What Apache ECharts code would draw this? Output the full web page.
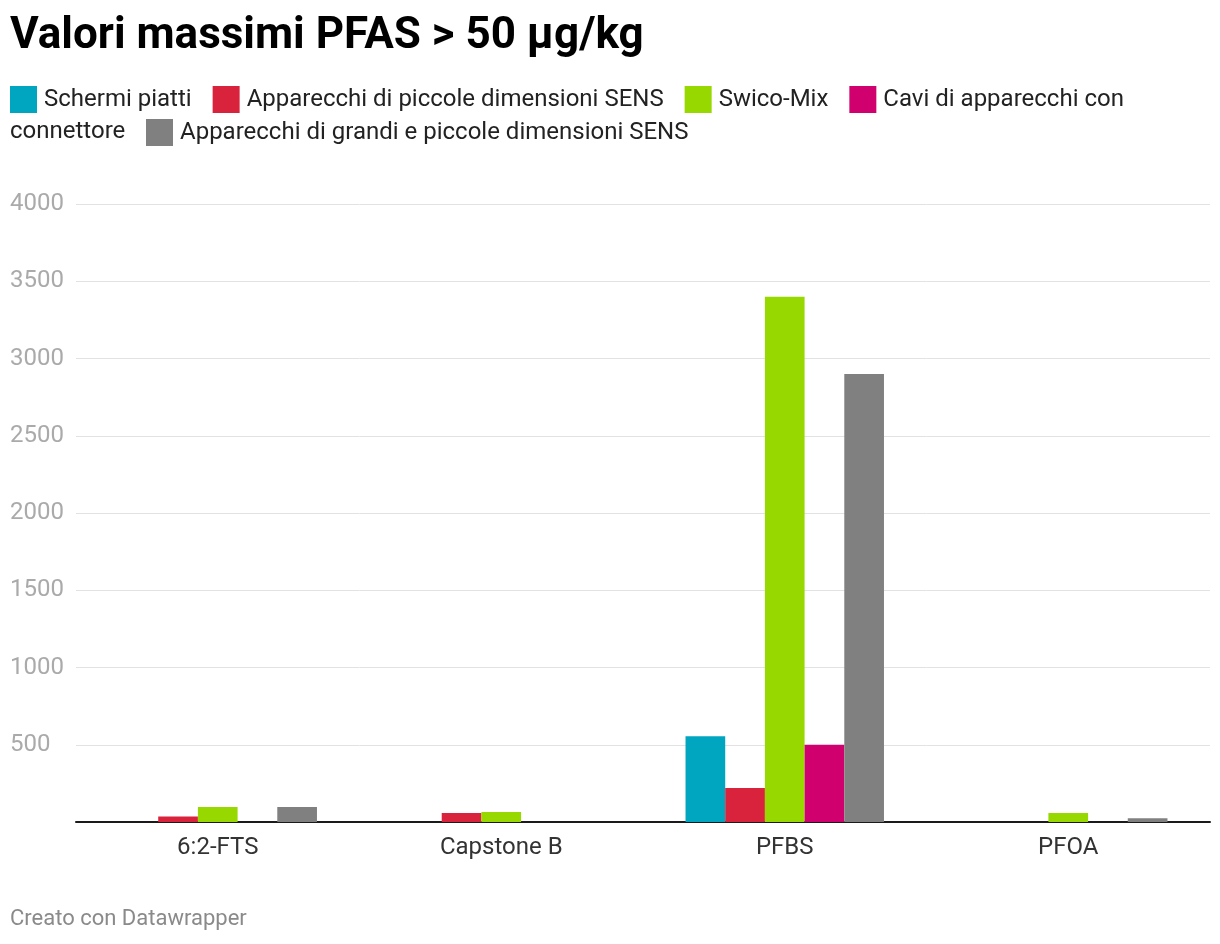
<!DOCTYPE html>
<html>
<head>
<meta charset="utf-8">
<script src="https://cdn.jsdelivr.net/npm/echarts@6/dist/echarts.min.js"></script>
<style>
  html, body { margin: 0; padding: 0; background: #fff; }
  #main { width: 1220px; height: 944px; }
</style>
</head>
<body>
<div id="main"></div>
<script>
// categorie e valori
var categories = ['6:2-FTS', 'Capstone B', 'PFBS', 'PFOA'];
var seriesNames = [
  'Schermi piatti',
  'Apparecchi di piccole dimensioni SENS',
  'Swico-Mix',
  'Cavi di apparecchi con connettore',
  'Apparecchi di grandi e piccole dimensioni SENS'
];
var schermi = [null, null, 555, null];
var piccole = [35, 58, 220, null];
var swico = [97, 65, 3400, 58];
var cavi = [null, null, 500, null];
var grandi = [97, null, 2900, 25];
var yTicks = [0, 500, 1000, 1500, 2000, 2500, 3000, 3500, 4000];

var colors = ['#00a5bf', '#d9223c', '#96d800', '#d1006f', '#808080'];
var font = 'Roboto, "Noto Sans", sans-serif';

var myChart = echarts.init(document.getElementById('main'));

function makeSeries(name, data) {
  return {
    name: name,
    type: 'bar',
    data: data,
    barGap: '0%',
    barCategoryGap: '30%'
  };
}

var option = {
  color: colors,
  animation: false,
  textStyle: { fontFamily: font },
  title: {
    text: 'Valori massimi PFAS > 50 µg/kg',
    left: 5,
    top: 10,
    textStyle: { fontSize: 44, fontWeight: 'bold', color: '#000', fontFamily: font }
  },
  legend: [{
    data: seriesNames.slice(0, 4),
    left: 5,
    top: 81,
    itemWidth: 27,
    itemHeight: 27,
    itemGap: 21,
    icon: 'rect',
    formatter: function (n) {
      return n === 'Cavi di apparecchi con connettore' ? 'Cavi di apparecchi con' : n;
    },
    textStyle: { fontSize: 24, color: '#222', padding: [0, 0, 0, 2] }
  }, {
    data: [seriesNames[4]],
    left: 141,
    top: 114,
    itemWidth: 27,
    itemHeight: 27,
    icon: 'rect',
    textStyle: { fontSize: 24, color: '#222', padding: [0, 0, 0, 2] }
  }],
  graphic: [{
    type: 'text',
    left: 10,
    top: 120,
    style: { text: 'connettore', fontSize: 24, fill: '#222', fontFamily: font }
  }, {
    type: 'text',
    left: 10,
    top: 908,
    style: { text: 'Creato con Datawrapper', fontSize: 22, fill: '#8a8a8a', fontFamily: font }
  }],
  grid: {
    left: 76,
    right: 10,
    top: 204,
    bottom: 122
  },
  xAxis: {
    type: 'category',
    data: categories,
    axisTick: { show: false },
    axisLine: { lineStyle: { color: '#1a1a1a', width: 2 } },
    axisLabel: { fontSize: 24, color: '#333', margin: 14 }
  },
  yAxis: {
    type: 'value',
    min: yTicks[0],
    max: yTicks[yTicks.length - 1],
    interval: 500,
    axisLine: { show: false },
    axisTick: { show: false },
    splitLine: { lineStyle: { color: '#e2e2e2', width: 1 } },
    axisLabel: {
      fontSize: 24,
      color: '#aaa',
      align: 'left',
      margin: 66,
      padding: [4, 0, 0, 0],
      formatter: function (v) { return v === 0 ? '' : v; }
    }
  },
  series: [
    makeSeries(seriesNames[0], schermi),
    makeSeries(seriesNames[1], piccole),
    makeSeries(seriesNames[2], swico),
    makeSeries(seriesNames[3], cavi),
    makeSeries(seriesNames[4], grandi)
  ]
};

myChart.setOption(option);
</script>
</body>
</html>
